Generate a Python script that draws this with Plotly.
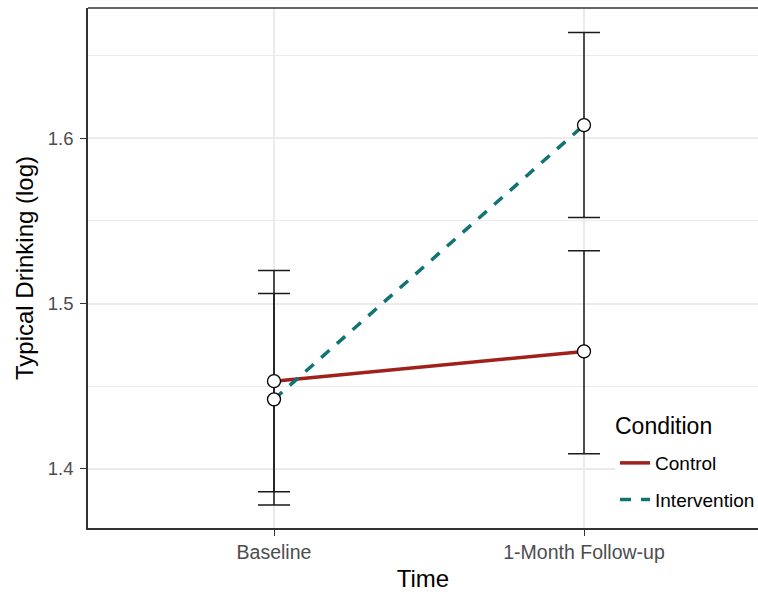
import plotly.graph_objects as go

# ---- data ----
times = ["Baseline", "1-Month Follow-up"]
conditions = ["Control", "Intervention"]
control_mean = [1.453, 1.471]
control_upper = [1.520, 1.532]
control_lower = [1.386, 1.409]
intervention_mean = [1.442, 1.608]
intervention_upper = [1.506, 1.664]
intervention_lower = [1.378, 1.552]
y_ticks = [1.4, 1.5, 1.6]
y_tick_labels = ["1.4", "1.5", "1.6"]

colors = {"Control": "#A0201C", "Intervention": "#117373"}
dashes = {"Control": "solid", "Intervention": "11px,10px"}

series = {
    "Control": (control_mean, control_upper, control_lower),
    "Intervention": (intervention_mean, intervention_upper, intervention_lower),
}

FONT = "Liberation Sans, Arial, sans-serif"

fig = go.Figure()

# lines (legend entries)
for name in conditions:
    m, u, l = series[name]
    fig.add_trace(go.Scatter(
        x=times, y=m, mode="lines", name=name,
        line=dict(color=colors[name], width=3.5, dash=dashes[name]),
        legendgroup=name, showlegend=True, hoverinfo="skip",
    ))

# error bars
for name in conditions:
    m, u, l = series[name]
    fig.add_trace(go.Scatter(
        x=times, y=m, mode="markers",
        marker=dict(size=1, color="rgba(0,0,0,0)"),
        error_y=dict(type="data", symmetric=False,
                     array=[uu - mm for uu, mm in zip(u, m)],
                     arrayminus=[mm - ll for mm, ll in zip(m, l)],
                     color="#1A1A1A", thickness=1.5, width=16),
        showlegend=False, hoverinfo="skip",
    ))

# points
for name in conditions:
    m, u, l = series[name]
    fig.add_trace(go.Scatter(
        x=times, y=m, mode="markers",
        marker=dict(size=13, color="white", line=dict(color="black", width=1.3)),
        showlegend=False, hoverinfo="skip",
    ))

fig.update_layout(
    width=758, height=592, autosize=False,
    margin=dict(l=88, r=0, t=8, b=64, autoexpand=False),
    paper_bgcolor="white", plot_bgcolor="white",
    font=dict(family=FONT, color="black"),
    showlegend=True,
    legend=dict(
        font=dict(size=19, color="black", family=FONT),
        x=0.7866, xanchor="left", y=0.1615, yanchor="top",
        bgcolor="white", borderwidth=0,
        traceorder="grouped", tracegroupgap=9,
    ),
    annotations=[dict(
        text="Condition", xref="paper", yref="paper",
        x=0.7836, y=0.196, xanchor="left", yanchor="middle",
        showarrow=False, font=dict(size=23, color="black", family=FONT),
    )],
    xaxis=dict(
        type="category", categoryorder="array", categoryarray=times,
        range=[-0.6, 1.5613],
        showgrid=True, gridcolor="#EBEBEB", gridwidth=1.5,
        zeroline=False,
        showline=True, linecolor="#333333", linewidth=1.5,
        ticks="outside", ticklen=6, tickcolor="#333333", tickwidth=1.3,
        tickfont=dict(size=19.5, color="#4D4D4D", family=FONT),
        title=dict(text="Time", font=dict(size=24, color="black", family=FONT), standoff=9),
    ),
    yaxis=dict(
        range=[1.3641, 1.6789],
        tickmode="array", tickvals=y_ticks, ticktext=y_tick_labels,
        showgrid=True, gridcolor="#EBEBEB", gridwidth=1.5,
        minor=dict(showgrid=True, gridcolor="#EBEBEB", gridwidth=1.2, dtick=0.05, tick0=1.35),
        zeroline=False,
        showline=True, linecolor="#333333", linewidth=1.5,
        ticks="outside", ticklen=6, tickcolor="#333333", tickwidth=1.3,
        ticklabelstandoff=3,
        tickfont=dict(size=18.5, color="#4D4D4D", family=FONT),
        title=dict(text="Typical Drinking (log)", font=dict(size=24, color="black", family=FONT), standoff=7),
    ),
    shapes=[dict(type="line", xref="paper", yref="paper", x0=0, x1=1, y0=1, y1=1,
                 line=dict(color="#333333", width=1.5))],
)

fig.write_html(
    "out.html",
    config={"displayModeBar": False},
    post_script="document.body.style.margin='0';document.body.style.overflow='hidden';",
)
